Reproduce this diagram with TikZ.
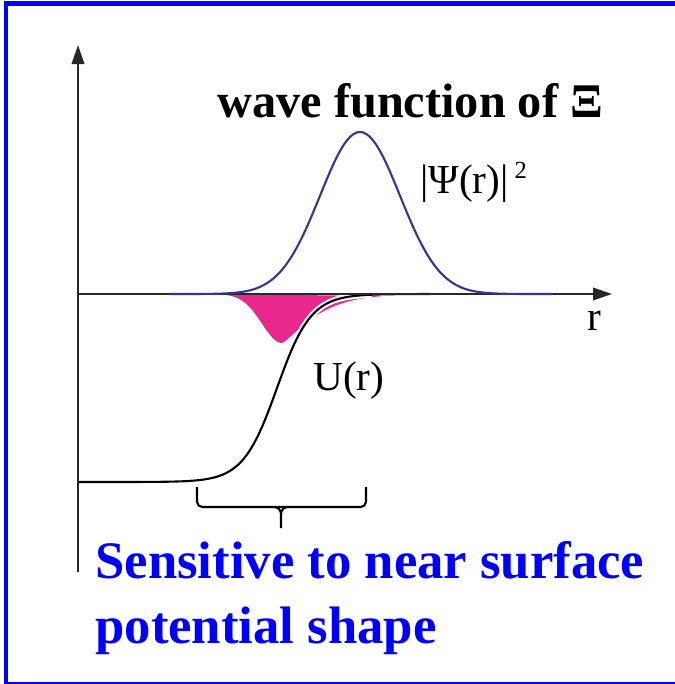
\documentclass[tikz,border=0pt]{standalone}
\usepackage{fontspec}
\setmainfont{Liberation Serif}
\usetikzlibrary{arrows.meta}

\definecolor{wfblue}{RGB}{52,52,150}
\definecolor{overlap}{RGB}{232,40,140}
\definecolor{axisgray}{RGB}{40,40,40}

\begin{document}
\begin{tikzpicture}[x=0.02cm, y=-0.02cm,
    axis/.style={draw=axisgray, line width=1.2pt, -{Triangle[length=0.38cm, width=0.25cm]}},
    curve/.style={line width=1.2pt, line join=round},
    lbl/.style={font=\fontsize{23.5}{28}\selectfont, inner sep=0pt, anchor=base west},
    title/.style={font=\fontsize{27.5}{33}\selectfont\bfseries, inner sep=0pt, anchor=base west},
    note/.style={font=\fontsize{30}{36.8}\selectfont\bfseries, text=blue, align=left,
                 inner sep=0pt, anchor=base west},
    brk/.style={line width=1.2pt, rounded corners=3pt}
  ]
  \useasboundingbox (0,0) rectangle (674,684);
  \draw[blue, line width=2.8pt] (6,3.5) rectangle (700,684.5);

  \coordinate (O)    at (78,294);
  \coordinate (ytip) at (78,45);
  \coordinate (ybot) at (78,572);
  \coordinate (xtip) at (612,294);

  % overlap region
  \fill[overlap] (225,294)
    -- plot[domain=225:282, samples=40] (\x, {294+49*exp(-((\x-282)/20)^2/2)})
    -- plot[domain=282.2:382, samples=50] (\x, {294+49*exp(-((\x-282)/40)^1.25)})
    -- cycle;

  % potential U(r)
  \draw[white, line width=3.5pt] plot[domain=290:372, samples=40]
    (\x, {294+188/(1+exp((\x-277)/17))});
  \draw[black, curve] plot[domain=78:430, samples=120]
    (\x, {294+188/(1+exp((\x-277)/17))});

  % axes
  \draw[axis] (ybot) -- (ytip);
  \draw[axis] (O) -- (xtip);

  % |Psi|^2
  \draw[wfblue, curve] plot[domain=170:553, samples=120]
    (\x, {294-162*exp(-((\x-360)/40)^2/2)});

  \node[title] (wavefn) at (217,117) {wave function of Ξ};
  \node[lbl] (psisq) at (420,193) {|Ψ(r)|\raisebox{8pt}{\fontsize{14}{14}\selectfont\ 2}};
  \node[lbl] (rlabel) at (587,330) {r};
  \node[lbl] (ulabel) at (313,390) {U(r)};

  % bracket
  \draw[brk] (197,487) -- (197,507) -- (366,507) -- (366,487);
  \draw[line width=1.2pt] (274,507) to[out=0, in=90] (281,514) -- (281,528);
  \draw[line width=1.2pt] (288,507) to[out=180, in=90] (281,514);

  \node[note] (sensitive) at (95,643) {Sensitive to near surface\\potential shape};
\end{tikzpicture}
\end{document}
